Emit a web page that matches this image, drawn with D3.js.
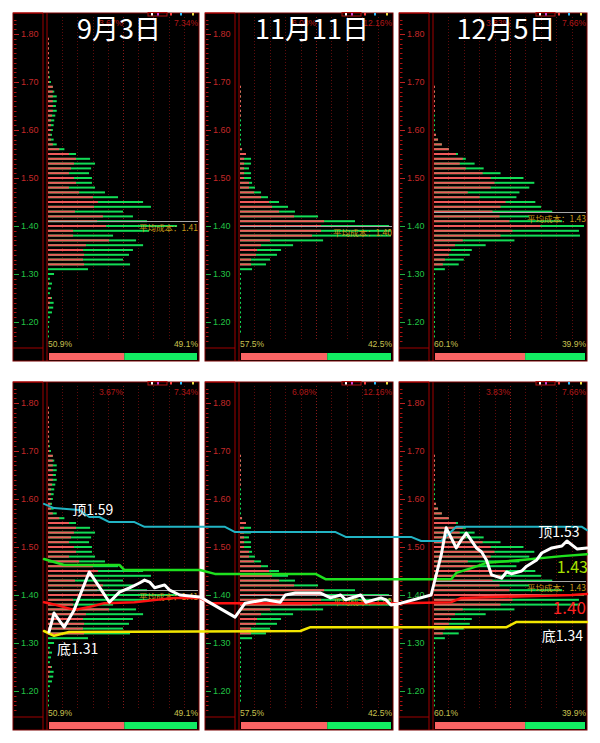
<!DOCTYPE html>
<html><head><meta charset="utf-8">
<script src="https://cdnjs.cloudflare.com/ajax/libs/d3/7.8.5/d3.min.js"></script>
<style>html,body{margin:0;padding:0;background:#fff;} svg{display:block;}</style>
</head><body>
<svg id="c" width="600" height="743"></svg>
<script>
// ---------------- DATA ----------------
const titles = ["9月3日", "11月11日", "12月5日"];
const priceLevels = [1.79,1.78,1.77,1.76,1.75,1.74,1.73,1.72,1.71,1.70,
  1.69,1.68,1.67,1.66,1.65,1.64,1.63,1.62,1.61,1.60,
  1.59,1.58,1.57,1.56,1.55,1.54,1.53,1.52,1.51,1.50,
  1.49,1.48,1.47,1.46,1.45,1.44,1.43,1.42,1.41,1.40,
  1.39,1.38,1.37,1.36,1.35,1.34,1.33,1.32,1.31,1.30,
  1.29,1.28,1.27,1.26,1.25,1.24,1.23,1.22,1.21,1.20,
  1.19,1.18,1.17];
const yTicks = [1.80, 1.70, 1.60, 1.50, 1.40, 1.30, 1.20];
const maxPct = [7.34, 12.16, 7.66];
const midPct = [3.67, 6.08, 3.83];
const avgCost = [1.41, 1.40, 1.43];
const profitPct = [50.9, 57.5, 60.1];
const lossPct = [49.1, 42.5, 39.9];

// chip share (%) per price level: total and red (profit) part
const p1Total = [0.05,0.05,0.05,0.07,0.10,0.10,0.10,0.11,0.14,0.19,
  0.28,0.35,0.47,0.47,0.43,0.47,0.40,0.35,0.32,0.28,
  0.24,0.32,0.47,0.84,1.40,2.08,2.32,2.13,2.03,2.17,
  2.17,2.32,2.80,3.43,4.64,5.02,3.67,4.15,4.83,6.28,
  4.93,3.19,4.30,4.64,4.15,3.96,3.67,4.01,1.98,0.34,
  0.14,0.24,0.19,0.14,0.24,0.32,0.30,0.24,0.14,0.11,
  0.08,0.05,0.03];
const p1Red = [0.05,0.05,0.05,0.07,0.10,0.05,0.10,0.07,0.05,0.11,
  0.28,0.28,0.28,0.28,0.28,0.28,0.24,0.19,0.19,0.19,
  0.17,0.19,0.28,0.59,1.06,1.40,1.30,1.16,1.06,1.30,
  1.40,1.06,1.55,2.22,2.46,2.27,1.35,2.70,2.42,2.85,
  1.26,1.26,2.99,1.88,1.74,1.79,1.74,1.79,0,0,
  0,0.10,0,0,0.19,0.14,0.10,0,0,0,
  0,0,0];
const p2Total = [0,0,0,0,0,0,0,0,0,0,
  0.08,0.08,0.08,0.08,0.08,0.08,0.08,0.08,0.08,0.08,
  0.08,0.08,0.12,0.24,0.55,0.95,0.95,0.79,0.95,0.95,
  1.03,1.26,1.74,2.29,3.16,3.87,4.42,6.24,9.16,11.85,
  12.0,12.0,6.64,4.27,3.32,3.00,2.45,2.13,1.03,0.12,
  0.08,0.08,0.08,0.08,0.08,0.08,0.08,0.08,0.08,0.08,
  0.08,0.08,0];
const p2Red = [0,0,0,0,0,0,0,0,0,0,
  0.08,0.08,0.08,0.08,0.08,0.08,0.08,0,0,0,
  0,0,0,0.24,0.55,0.40,0.40,0.40,0.40,0.40,
  0.79,0.79,1.19,1.74,2.37,2.61,3.16,4.35,6.72,6.48,
  6.48,5.77,2.45,1.74,1.42,1.34,0.95,0.95,0,0,
  0,0,0,0,0,0,0,0,0,0,
  0,0,0];
const p3Total = [0,0,0,0,0,0,0,0,0,0,
  0.05,0.05,0.05,0.05,0.05,0.05,0.05,0.05,0.05,0.05,
  0.15,0.25,0.44,0.79,1.24,1.63,2.07,2.52,3.36,4.50,
  5.04,4.79,4.30,4.15,5.09,5.38,5.93,4.79,6.42,7.51,
  7.26,7.31,4.05,2.62,1.93,1.83,1.53,1.28,0.59,0.05,
  0.05,0.05,0.05,0.05,0.05,0.05,0.05,0.05,0.05,0.05,
  0.02,0.02,0.02];
const p3Red = [0,0,0,0,0,0,0,0,0,0,
  0.05,0.05,0.05,0.05,0.05,0.05,0,0,0,0,
  0.15,0.25,0.44,0.79,1.14,1.48,1.33,1.63,2.47,2.87,
  3.06,2.87,1.73,2.32,3.61,3.36,2.96,3.31,3.80,5.34,
  3.95,3.36,1.48,1.09,0.89,0.79,0.59,0.49,0,0,
  0,0,0,0,0,0,0,0,0,0,
  0,0,0];
const totals = [p1Total, p2Total, p3Total];
const reds = [p1Red, p2Red, p3Red];

// overlay lines on bottom row: [day index, price]
const topLine = [[0,1.590],[2,1.581],[7,1.577],[9,1.5625],[11,1.5625],[13,1.552],[18,1.552],[20,1.542],[36,1.542],[38,1.531],[58,1.531],[60,1.521],[73,1.521],[75,1.5125],[79,1.5125],[82,1.542],[107,1.542],[108,1.535]];
const greenLine = [[0,1.475],[4,1.4625],[15,1.4625],[16,1.452],[31,1.452],[34,1.444],[54,1.444],[56,1.433],[81,1.433],[82,1.446],[85,1.456],[88,1.467],[95,1.473],[103,1.481],[108,1.485]];
const redLine = [[0,1.385],[1,1.383],[6,1.369],[9,1.375],[12,1.383],[18,1.385],[26,1.394],[31,1.394],[33,1.383],[71,1.383],[81,1.385],[83,1.394],[105,1.400],[108,1.402]];
const bottomLine = [[0,1.325],[2,1.315],[5,1.323],[51,1.325],[53,1.333],[92,1.333],[94,1.344],[108,1.344]];
const priceLine = [[1,1.323],[2,1.3625],[4,1.333],[6,1.369],[9,1.448],[11,1.417],[13,1.385],[15,1.406],[17,1.415],[19,1.425],[20,1.431],[21,1.427],[22,1.415],[24,1.421],[25,1.410],[27,1.400],[31,1.396],[38,1.354],[40,1.383],[44,1.390],[47,1.385],[48,1.400],[50,1.404],[55,1.404],[57,1.394],[59,1.400],[60,1.390],[63,1.400],[64,1.385],[67,1.394],[68,1.390],[69,1.379],[71,1.383],[77,1.400],[79,1.483],[80,1.540],[82,1.498],[83,1.515],[84,1.529],[86,1.498],[87,1.490],[88,1.473],[89,1.442],[91,1.435],[92,1.448],[93,1.444],[95,1.450],[96,1.460],[98,1.473],[99,1.4875],[101,1.498],[103,1.502],[104,1.5125],[106,1.496],[108,1.498]];
const annotations = [
  {text:"顶1.59", day:5.6, price:1.567, kind:"w"},
  {text:"底1.31", day:2.6, price:1.277, kind:"w"},
  {text:"顶1.53", day:98.3, price:1.521, kind:"w"},
  {text:"1.43", day:102, price:1.446, kind:"g"},
  {text:"1.40", day:101.2, price:1.360, kind:"r"},
  {text:"底1.34", day:99, price:1.304, kind:"w"}
];

// ---------------- LAYOUT ----------------
const svg = d3.select("#c");
const panelLeft = [13, 205, 399], panelRight = [199, 393, 587];
const rowTop = [13, 382], rowBottom = [361, 730];
const yRanges = [[34, 322], [403, 691]];
const RED = "#ee5a5a", GREEN = "#12dc56";
const txtFont = "'Liberation Sans', Arial, sans-serif";
const cjk = "'Noto Sans CJK SC', 'Noto Sans', sans-serif";

function drawPanel(r, c) {
  const g = svg.append("g");
  const L = panelLeft[c], R = panelRight[c], T = rowTop[r], B = rowBottom[r];
  const y = d3.scaleLinear().domain([1.80, 1.20]).range(yRanges[r]);
  const plotL = L + 34, plotR = R;
  const x = d3.scaleLinear().domain([0, maxPct[c]]).range([plotL, plotR]);

  g.append("rect").attr("x", L).attr("y", T).attr("width", R - L).attr("height", B - T)
    .attr("fill", "#000").attr("stroke", "#7a0000").attr("stroke-width", 1);
  // axis column lines
  g.append("line").attr("x1", L + 30).attr("x2", L + 30).attr("y1", T).attr("y2", B).attr("stroke", "#a00000");
  g.append("line").attr("x1", plotL).attr("x2", plotL).attr("y1", T).attr("y2", B).attr("stroke", "#a00000");
  g.append("line").attr("x1", L).attr("x2", L + 30).attr("y1", B - 13).attr("y2", B - 13).attr("stroke", "#a00000");
  g.append("line").attr("x1", L).attr("x2", L + 30).attr("y1", T).attr("y2", T).attr("stroke", "#c00000");

  // dotted grid
  d3.range(1, 10).forEach(k => {
    const xx = Math.round(x(maxPct[c] * k / 10)) + 0.5;
    g.append("line").attr("x1", xx).attr("x2", xx).attr("y1", T + 4).attr("y2", B - 20)
      .attr("stroke", k === 5 ? "#8a1a1a" : "#5e0c0c").attr("stroke-dasharray", "1,2");
  });

  // minor price ticks
  const minor = d3.range(116, 184).map(v => v / 100);
  g.selectAll(null).data(minor).enter().append("line")
    .attr("x1", L + 1).attr("x2", L + 3.5)
    .attr("y1", d => Math.round(y(d)) + 0.5).attr("y2", d => Math.round(y(d)) + 0.5)
    .attr("stroke", "#b01010");
  // y axis with labels
  const ax = g.append("g").attr("transform", `translate(${L + 1},0)`)
    .call(d3.axisRight(y).tickValues(yTicks).tickSize(5).tickPadding(2).tickFormat(d3.format(".2f")));
  ax.select(".domain").remove();
  ax.selectAll(".tick line").attr("stroke", d => d >= 1.5 ? "#c02020" : "#20b040");
  ax.selectAll(".tick text").attr("fill", d => d >= 1.5 ? "#c42828" : "#22c444")
    .style("font-family", txtFont).style("font-size", "9px");

  // bars
  const bars = priceLevels.map((p, i) => ({p, t: totals[c][i], rd: reds[c][i]})).filter(d => d.t > 0);
  g.selectAll(null).data(bars).enter().append("rect")
    .attr("x", plotL + 1).attr("y", d => y(d.p) - 1).attr("height", 2)
    .attr("width", d => Math.max(1, x(d.t) - plotL - 1)).attr("fill", GREEN);
  g.selectAll(null).data(bars.filter(d => d.rd > 0)).enter().append("rect")
    .attr("x", plotL + 1).attr("y", d => y(d.p) - 1).attr("height", 2)
    .attr("width", d => Math.max(1, x(d.rd) - plotL - 1)).attr("fill", RED);

  // average cost
  const ya = Math.round(y(avgCost[c])) + 0.5;
  g.append("line").attr("x1", plotL + 1).attr("x2", plotR - 1).attr("y1", ya).attr("y2", ya)
    .attr("stroke", "#a8a8a8").attr("stroke-width", 1.2);
  g.append("text").attr("x", plotR - 1).attr("y", ya + 9).attr("text-anchor", "end")
    .attr("fill", "#c89a18").style("font-family", cjk).style("font-size", "8.5px")
    .text("平均成本：" + avgCost[c].toFixed(2));

  // top percentage labels
  g.append("text").attr("x", x(midPct[c])).attr("y", T + 13).attr("text-anchor", "end")
    .attr("fill", "#b01818").style("font-family", txtFont).style("font-size", "8.5px").text(midPct[c].toFixed(2) + "%");
  g.append("text").attr("x", plotR - 1).attr("y", T + 13).attr("text-anchor", "end")
    .attr("fill", "#b01818").style("font-family", txtFont).style("font-size", "8.5px").text(maxPct[c].toFixed(2) + "%");
  // small legend icons
  g.append("rect").attr("x", plotR - 51).attr("y", T - 0.5).attr("width", 19).attr("height", 3.5)
    .attr("fill", "none").attr("stroke", "#b01010").attr("stroke-width", 1);
  [["#ffffff", -48], ["#d040d0", -42], ["#ff4040", -29], ["#30c0ff", -19], ["#f0e040", -7]].forEach(([col, dx]) => {
    g.append("rect").attr("x", plotR + dx).attr("y", T).attr("width", 2).attr("height", 2.5).attr("fill", col);
  });

  // bottom profit / loss
  g.append("text").attr("x", plotL + 1).attr("y", B - 14).attr("fill", "#c8c050")
    .style("font-family", txtFont).style("font-size", "8.5px").text(profitPct[c].toFixed(1) + "%");
  g.append("text").attr("x", plotR - 1).attr("y", B - 14).attr("text-anchor", "end").attr("fill", "#c8c050")
    .style("font-family", txtFont).style("font-size", "8.5px").text(lossPct[c].toFixed(1) + "%");
  const ps = d3.scaleLinear().domain([0, 100]).range([plotL + 2, plotR - 2]);
  g.append("rect").attr("x", ps(0)).attr("y", B - 8).attr("width", ps(profitPct[c]) - ps(0)).attr("height", 7).attr("fill", "#fa6464");
  g.append("rect").attr("x", ps(profitPct[c])).attr("y", B - 8).attr("width", ps(100) - ps(profitPct[c])).attr("height", 7).attr("fill", "#12ec62");

  if (r === 0) {
    g.append("text").attr("x", (plotL + plotR) / 2 - 4).attr("y", T + 26).attr("text-anchor", "middle")
      .attr("fill", "#fff").style("font-family", cjk).style("font-size", "27px").text(titles[c]);
  }
}

for (let r = 0; r < 2; r++) for (let c = 0; c < 3; c++) drawPanel(r, c);

// overlay lines on bottom row
const dayX = d3.scaleLinear().domain([0, 108]).range([44, 587]);
const yB = d3.scaleLinear().domain([1.80, 1.20]).range(yRanges[1]);
const lineGen = d3.line().x(d => dayX(d[0])).y(d => yB(d[1]));
const ov = svg.append("g").attr("fill", "none").attr("stroke-linejoin", "round").attr("stroke-linecap", "round");
ov.append("path").attr("d", lineGen(topLine)).attr("stroke", "#22b4c4").attr("stroke-width", 2);
ov.append("path").attr("d", lineGen(greenLine)).attr("stroke", "#1ee01e").attr("stroke-width", 2.5);
ov.append("path").attr("d", lineGen(bottomLine)).attr("stroke", "#f2e600").attr("stroke-width", 2.5);
ov.append("path").attr("d", lineGen(redLine)).attr("stroke", "#ff1212").attr("stroke-width", 2.5);
ov.append("path").attr("d", lineGen(priceLine)).attr("stroke", "#ffffff").attr("stroke-width", 3);

const annColor = {w: "#ffffff", g: "#a6e000", r: "#ff2020"};
const annSize = {w: "14px", g: "16px", r: "17px"};
svg.selectAll(null).data(annotations).enter().append("text")
  .attr("x", d => dayX(d.day)).attr("y", d => yB(d.price))
  .attr("fill", d => annColor[d.kind]).style("font-size", d => annSize[d.kind])
  .style("font-family", cjk).text(d => d.text);
</script>
</body></html>
